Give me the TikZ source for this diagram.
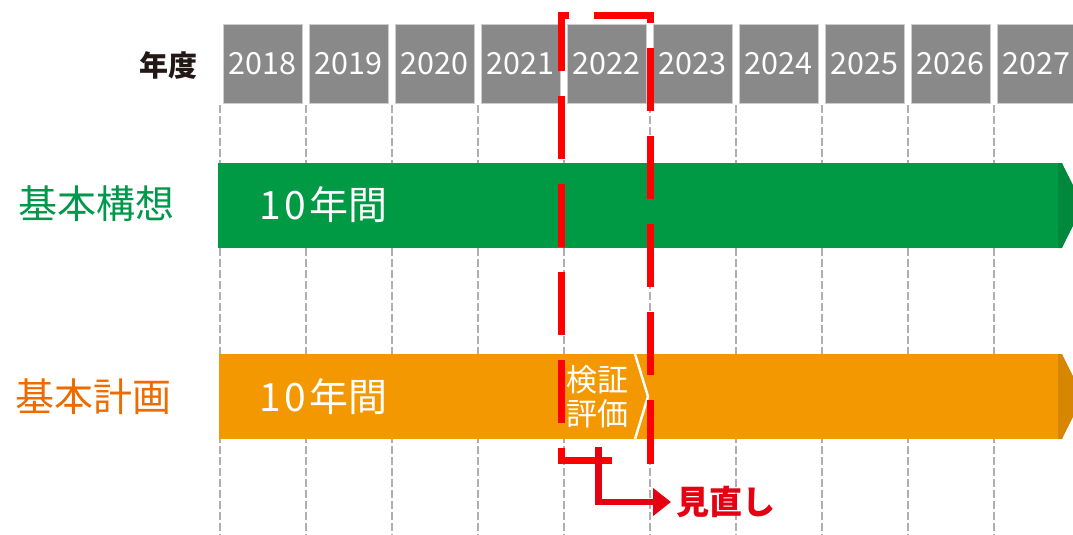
\documentclass[tikz,border=0pt]{standalone}
\usepackage{fontspec}
\setmainfont{Noto Sans CJK JP}
\usetikzlibrary{arrows.meta}
\definecolor{boxgray}{RGB}{137,137,137}
\definecolor{boxedge}{RGB}{205,205,205}
\definecolor{gridgray}{RGB}{175,175,175}
\definecolor{darktext}{RGB}{35,24,21}
\definecolor{barGreen}{RGB}{0,153,68}
\definecolor{barGreenDark}{RGB}{0,136,60}
\definecolor{txtGreen}{RGB}{0,152,74}
\definecolor{barOrange}{RGB}{243,152,0}
\definecolor{barOrangeDark}{RGB}{214,134,0}
\definecolor{txtOrange}{RGB}{237,108,0}
\definecolor{hlRed}{RGB}{255,0,0}
\definecolor{arRed}{RGB}{229,0,18}
\tikzset{
  yearbox/.style={fill=boxgray, draw=boxedge, line width=0.8pt, minimum width=79pt, minimum height=79pt, inner sep=0pt, text=white, font=\fontsize{30.5}{36}\selectfont},
  gridline/.style={draw=gridgray, line width=1.3pt, dash pattern=on 8pt off 3pt},
  barlabel/.style={anchor=west, inner sep=0pt, text=white, font=\fontsize{39}{44}\selectfont},
  rowlabel/.style={anchor=west, inner sep=0pt, font=\fontsize{39}{44}\selectfont},
  hldash/.style={draw=hlRed, line width=7pt, dash pattern=on 63pt off 25pt},
  redarrow/.style={draw=arRed, line width=6.5pt, -{Triangle[length=18pt,width=27pt]}},
}
\begin{document}
\begin{tikzpicture}[x=1pt,y=-1pt]
\clip (0,0) rectangle (1073,535);
\fill[white] (0,0) rectangle (1073,535);
% grid lines
\foreach \i in {0,...,9}{
  \draw[gridline] ({220+86*\i},105) -- ({220+86*\i},535);
}
% year boxes
\foreach \yr [count=\i from 0] in {2018,2019,2020,2021,2022,2023,2024,2025,2026,2027}{
  \node[yearbox] (y\yr) at ({262.5+86*\i},63.5) {\yr};
}
\node[anchor=east, inner sep=0pt, text=darktext, font=\fontsize{29}{34}\selectfont\bfseries] (nendo) at (198,65) {年度};
% green bar
\fill[barGreen] (218,163) rectangle (1059,248);
\fill[barGreenDark] (1058,163) -- (1062,163) -- (1083,205.5) -- (1062,248) -- (1058,248) -- cycle;
\node[barlabel] (kosoYears) at (259,205) {1\kern4pt0\kern3pt年間};
\node[rowlabel, text=txtGreen] (koso) at (18,204) {基本構想};
% orange bar
\fill[barOrange] (219,354) rectangle (1059,439);
\fill[barOrangeDark] (1058,354) -- (1062,354) -- (1083,396.5) -- (1062,439) -- (1058,439) -- cycle;
\draw[white, line width=2.5pt] (635,354) -- (648,396.5) -- (635,439);
\node[barlabel] (keikakuYears) at (259,397) {1\kern4pt0\kern3pt年間};
\node[rowlabel, text=txtOrange] (keikaku) at (15,397) {基本計画};
\node[inner sep=0pt, text=white, align=left, font=\fontsize{31}{34}\selectfont] (kensho) at (597,397) {検証\\評価};
% red dashed highlight
\draw[hldash] (594,16) -- (650,16) -- (650,460) -- (625,460);
\draw[hldash] (569,16) -- (561,16) -- (561,460) -- (625,460);
% review arrow
\node[anchor=west, inner sep=0pt, text=arRed, font=\fontsize{33}{38}\selectfont\bfseries] (minaoshi) at (676,502) {見直し};
\coordinate (revStart) at (598.5,447);
\draw[redarrow, shorten >=5pt] (revStart) |- (minaoshi.west);
\end{tikzpicture}
\end{document}
